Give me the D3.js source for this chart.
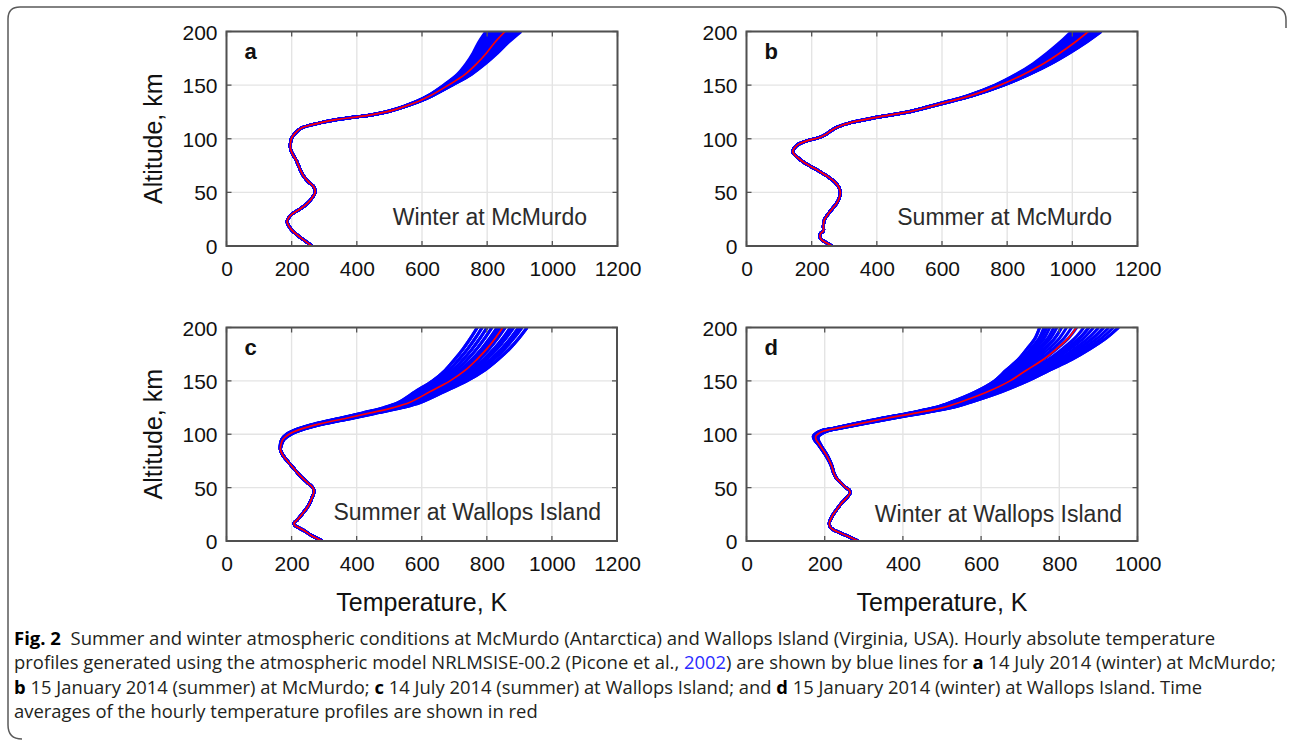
<!DOCTYPE html>
<html><head><meta charset="utf-8">
<script src="https://cdn.jsdelivr.net/npm/d3@7"></script>
<style>
html,body{margin:0;padding:0;background:#fff;}
svg{display:block;}
</style></head><body>
<svg id="chart" width="1290" height="740"></svg>
<script>
// ---------------- DATA ----------------
const xTicksWide = [0, 200, 400, 600, 800, 1000, 1200];
const xTicksNarrow = [0, 200, 400, 600, 800, 1000];
const yTicks = [0, 50, 100, 150, 200];

// (a) Winter at McMurdo
const altitudesA = [0,5,10,15,20,23,27,30,35,40,45,50,55,60,65,70,75,80,85,90,95,100,105,110,115,118,120,122,125,130,135,140,150,160,170,180,190,200];
const meanTempA  = [262,240,218,200,189,186,192,202,228,249,263,272,268,251,237,228,221,214,204,197,196,199,210,230,290,340,390,440,490,545,590,625,681,732,768,798,824,855];
const hourlyTopA = [793,799,805,811,817,823,829,834,839,844,849,853,857,861,865,869,873,877,881,885,889,893,897,901];
const spreadAltA  = [0,110,120,130,140,150,160,170,180,190,200];
const spreadFracA = [0,0,0.03,0.06,0.13,0.25,0.4,0.55,0.7,0.85,1];

// (b) Summer at McMurdo
const altitudesB = [0,3,6,9,12,14,18,22,25,30,35,40,45,50,55,60,65,70,75,80,85,88,91,95,98,101,104,108,111,115,120,125,130,135,140,150,160,170,180,190,200];
const meanTempB  = [262,245,230,225,228,236,236,237,240,251,264,277,285,288,283,270,248,222,192,167,148,142,146,160,185,222,243,262,280,320,400,497,563,625,686,778,850,911,962,1008,1049];
const hourlyTopB = [993,998,1003,1008,1013,1018,1023,1028,1033,1038,1042,1046,1050,1054,1058,1062,1066,1069,1072,1075,1078,1081,1083,1085];
const spreadAltB  = [0,110,120,130,140,150,160,170,180,190,200];
const spreadFracB = [0,0,0.04,0.09,0.18,0.3,0.45,0.6,0.75,0.88,1];

// (c) Summer at Wallops Island
const altitudesC = [0,5,10,15,17,20,25,30,35,40,45,48,50,55,60,65,70,75,80,85,90,95,100,105,110,115,120,125,130,140,150,160,170,180,190,200];
const meanTempC  = [295,262,237,209,208,218,232,245,255,262,268,268,265,248,230,215,201,187,174,166,167,173,192,230,290,368,442,513,564,626,687,734,769,800,826,849];
const hourlyTopC = [775,775,790,790,805,805,820,820,836,836,846,846,861,861,877,877,887,887,902,902,912,912,928,928];
const spreadAltC  = [0,85,95,100,105,110,120,130,140,150,160,170,180,190,200];
const spreadFracC = [0,0,0.05,0.1,0.15,0.2,0.3,0.45,0.58,0.69,0.79,0.87,0.93,0.97,1];

// (d) Winter at Wallops Island
const altitudesD = [0,5,10,13,17,20,25,30,35,40,45,48,50,55,60,65,70,75,80,85,90,95,98,100,103,106,110,115,120,125,130,140,150,160,170,180,190,200];
const meanTempD  = [286,256,225,214,212,215,222,232,242,255,265,262,254,240,228,222,218,212,205,196,187,178,177,182,197,235,290,359,435,503,546,618,674,716,759,793,823,844];
const hourlyTopD = [745,745,756,763,763,771,781,789,801,801,814,827,840,858,871,871,883,896,909,909,922,934,947,947];
const spreadAltD  = [0,60,80,90,95,100,110,120,130,140,150,160,170,180,190,200];
const spreadFracD = [0,0,0.02,0.03,0.05,0.08,0.12,0.18,0.25,0.33,0.42,0.55,0.68,0.8,0.9,1];

const panelLetters = ['a','b','c','d'];
const panelNotes = ['Winter at McMurdo','Summer at McMurdo','Summer at Wallops Island','Winter at Wallops Island'];
const xDomainMax = [1200, 1200, 1200, 1000];
const yTitleText = 'Altitude, km';
const xTitleText = 'Temperature, K';

// ---------------- LAYOUT ----------------
const boxes = [
  {l:226.5, r:617.5, t:31.5, b:246, xt:xTicksWide, yTitle:true,  xTitle:false, nr:30.5, nb:21},
  {l:746.5, r:1137.5, t:31.5, b:246, xt:xTicksWide, yTitle:false, xTitle:false, nr:25.5, nb:21},
  {l:226.5, r:617,   t:327.5, b:541, xt:xTicksWide, yTitle:true,  xTitle:true,  nr:16, nb:21},
  {l:746.5, r:1137.5, t:327.5, b:541, xt:xTicksNarrow, yTitle:false, xTitle:true, nr:15.5, nb:19}
];
const series = [
  {alts:altitudesA, mean:meanTempA, tops:hourlyTopA, fa:spreadAltA, fv:spreadFracA},
  {alts:altitudesB, mean:meanTempB, tops:hourlyTopB, fa:spreadAltB, fv:spreadFracB},
  {alts:altitudesC, mean:meanTempC, tops:hourlyTopC, fa:spreadAltC, fv:spreadFracC},
  {alts:altitudesD, mean:meanTempD, tops:hourlyTopD, fa:spreadAltD, fv:spreadFracD}
];

const svg = d3.select('#chart');
const FONT = '"Liberation Sans", Arial, Helvetica, sans-serif';

boxes.forEach((bx, i) => {
  const s = series[i];
  const x = d3.scaleLinear().domain([0, xDomainMax[i]]).range([bx.l, bx.r]);
  const y = d3.scaleLinear().domain([0, 200]).range([bx.b, bx.t]);
  const frac = d3.scaleLinear().domain(s.fa).range(s.fv).clamp(true);
  const g = svg.append('g');

  const clipId = 'clip' + i;
  svg.append('clipPath').attr('id', clipId).append('rect')
    .attr('x', bx.l).attr('y', bx.t).attr('width', bx.r - bx.l).attr('height', bx.b - bx.t);

  // grid
  g.append('g').selectAll('line').data(bx.xt).join('line')
    .attr('x1', d => x(d)).attr('x2', d => x(d)).attr('y1', bx.t).attr('y2', bx.b)
    .attr('stroke', '#e4e4e4').attr('stroke-width', 1.4);
  g.append('g').selectAll('line').data(yTicks).join('line')
    .attr('y1', d => y(d)).attr('y2', d => y(d)).attr('x1', bx.l).attr('x2', bx.r)
    .attr('stroke', '#e4e4e4').attr('stroke-width', 1.4);

  // lines
  const line = d3.line().x(d => x(d.t)).y(d => y(d.a)).curve(d3.curveCatmullRom.alpha(0.5));
  const avgTop = d3.mean(s.tops);
  const hourly = s.tops.map(top => s.alts.map((a, k) => ({a, t: s.mean[k] + (top - avgTop) * frac(a)})));
  const meanPts = s.alts.map((a, k) => ({a, t: s.mean[k]}));
  const lg = g.append('g').attr('clip-path', `url(#${clipId})`);
  lg.selectAll('path.h').data(hourly).join('path').attr('class', 'h')
    .attr('d', line).attr('fill', 'none').attr('stroke', '#0000ff').attr('stroke-width', 3)
    .attr('stroke-linejoin', 'round');
  lg.append('path').datum(meanPts).attr('d', line).attr('fill', 'none')
    .attr('stroke', '#ff0000').attr('stroke-width', 1.7).attr('stroke-linejoin', 'round');

  // inner ticks
  const tk = g.append('g').attr('stroke', '#555').attr('stroke-width', 1.3);
  bx.xt.forEach(v => {
    tk.append('line').attr('x1', x(v)).attr('x2', x(v)).attr('y1', bx.b).attr('y2', bx.b - 5);
    tk.append('line').attr('x1', x(v)).attr('x2', x(v)).attr('y1', bx.t).attr('y2', bx.t + 5);
  });
  yTicks.forEach(v => {
    tk.append('line').attr('y1', y(v)).attr('y2', y(v)).attr('x1', bx.l).attr('x2', bx.l + 5);
    tk.append('line').attr('y1', y(v)).attr('y2', y(v)).attr('x1', bx.r).attr('x2', bx.r - 5);
  });

  // frame
  g.append('rect').attr('x', bx.l).attr('y', bx.t).attr('width', bx.r - bx.l).attr('height', bx.b - bx.t)
    .attr('fill', 'none').attr('stroke', '#505050').attr('stroke-width', 2);

  // axes labels
  const ax = g.append('g').attr('transform', `translate(0,${bx.b})`)
    .call(d3.axisBottom(x).tickValues(bx.xt).tickSize(0).tickFormat(d3.format('d')));
  ax.select('.domain').remove();
  ax.selectAll('text').attr('y', 30).attr('dy', 0).attr('font-size', 21).attr('font-family', FONT).attr('fill', '#111');

  const ay = g.append('g').attr('transform', `translate(${bx.l},0)`)
    .call(d3.axisLeft(y).tickValues(yTicks).tickSize(0).tickPadding(9).tickFormat(d3.format('d')));
  ay.select('.domain').remove();
  ay.selectAll('text').attr('dy', '0.36em').attr('font-size', 21).attr('font-family', FONT).attr('fill', '#111');

  if (bx.yTitle) {
    g.append('text').attr('transform', `translate(162,${(bx.t + bx.b) / 2}) rotate(-90)`)
      .attr('text-anchor', 'middle').attr('font-size', 25).attr('font-family', FONT).attr('fill', '#111')
      .text(yTitleText);
  }
  if (bx.xTitle) {
    g.append('text').attr('x', (bx.l + bx.r) / 2).attr('y', bx.b + 70)
      .attr('text-anchor', 'middle').attr('font-size', 25).attr('font-family', FONT).attr('fill', '#111')
      .text(xTitleText);
  }

  // panel letter
  g.append('text').attr('x', bx.l + 18).attr('y', bx.t + 27)
    .attr('font-size', 22).attr('font-weight', 'bold').attr('font-family', FONT).attr('fill', '#111')
    .text(panelLetters[i]);

  // annotation
  g.append('text').attr('x', bx.r - bx.nr).attr('y', bx.b - bx.nb).attr('text-anchor', 'end')
    .attr('font-size', 23).attr('font-family', FONT).attr('fill', '#2b2b2b')
    .text(panelNotes[i]);
});

// ---------------- CAPTION ----------------
const captionLines = [
  [['Fig. 2', 'b'], ['  Summer and winter atmospheric conditions at McMurdo (Antarctica) and Wallops Island (Virginia, USA). Hourly absolute temperature', '']],
  [['profiles generated using the atmospheric model NRLMSISE-00.2 (Picone et al., ', ''], ['2002', 'link'], [') are shown by blue lines for ', ''], ['a', 'b'], [' 14 July 2014 (winter) at McMurdo;', '']],
  [['b', 'b'], [' 15 January 2014 (summer) at McMurdo; ', ''], ['c', 'b'], [' 14 July 2014 (summer) at Wallops Island; and ', ''], ['d', 'b'], [' 15 January 2014 (winter) at Wallops Island. Time', '']],
  [['averages of the hourly temperature profiles are shown in red', '']]
];
const captionBaselines = [645, 669, 694, 718];
const captionRightEdges = [1216, 1277, 1202, 538];
const capLeft = 14;

captionLines.forEach((parts, i) => {
  const t = svg.append('text').attr('x', 0).attr('y', 0)
    .attr('font-family', '"Open Sans", "Noto Sans", sans-serif').attr('font-size', 18)
    .attr('fill', '#231f20').style('white-space', 'pre');
  parts.forEach(([txt, sty]) => {
    const ts = t.append('tspan').text(txt);
    if (sty === 'b') ts.attr('font-weight', 'bold').attr('fill', '#000');
    if (sty === 'link') ts.attr('fill', '#2b2bff');
  });
  const w = t.node().getComputedTextLength();
  const sx = (captionRightEdges[i] - capLeft) / w;
  t.attr('transform', `translate(${capLeft},${captionBaselines[i]}) scale(${sx},1)`);
});

// frame around figure
svg.append('path')
  .attr('d', 'M22,739 Q8,739 8,725 L8,19 Q8,7 20,7 L1273,7 Q1286,7 1286,20 L1286,28')
  .attr('fill', 'none').attr('stroke', '#5a5a5a').attr('stroke-width', 1.5);
</script>
</body></html>
